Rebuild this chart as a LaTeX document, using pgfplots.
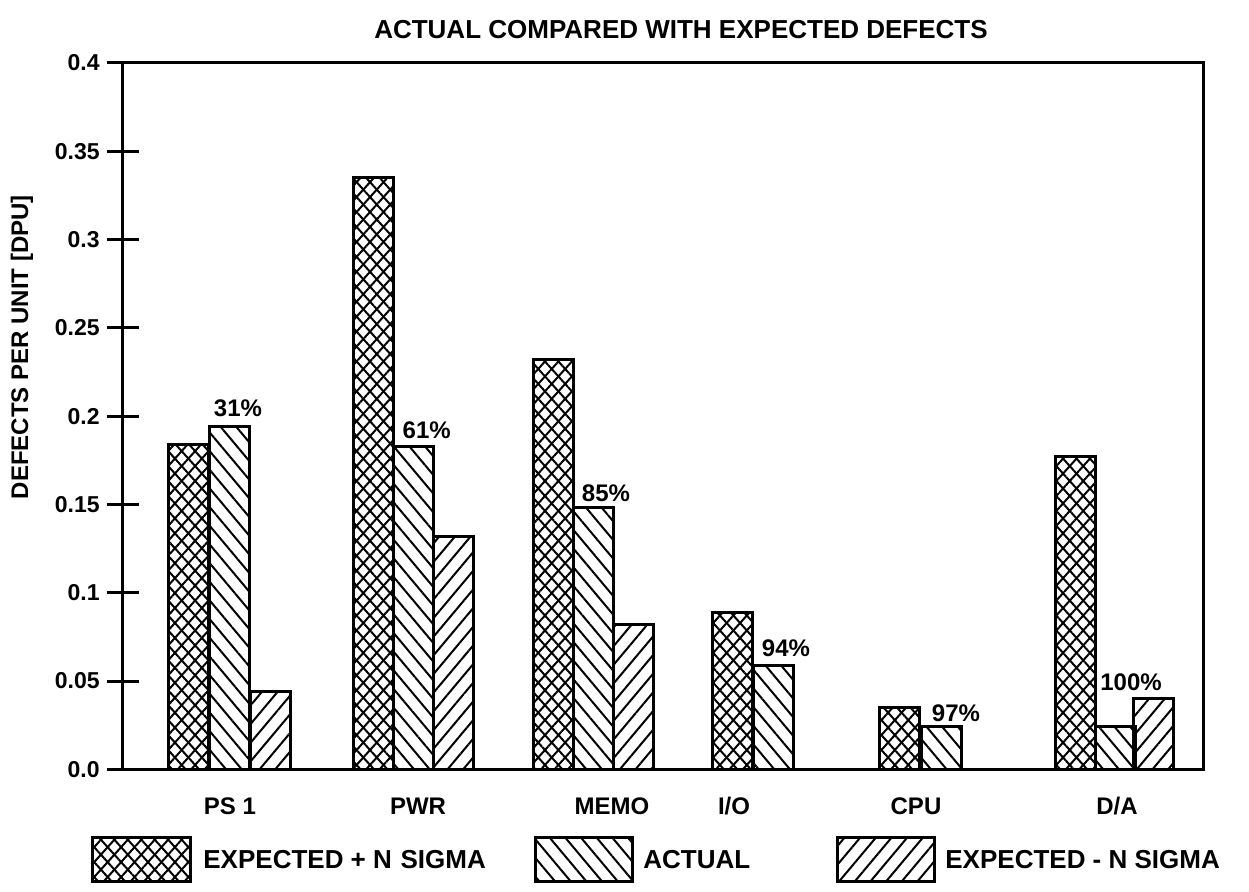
\documentclass[border=0pt]{standalone}
\usepackage{fontspec}
\setmainfont{Liberation Sans}
\usepackage{pgfplots}
\pgfplotsset{compat=1.18}
\usetikzlibrary{patterns.meta}

\tikzset{
 xh/.style={pattern={Lines[angle=48,distance=5pt,line width=1pt]}, postaction={pattern={Lines[angle=-48,distance=5pt,line width=1pt]}}},
 act/.style={pattern={Lines[angle=-50,distance=6pt,line width=1pt]}},
 exm/.style={pattern={Lines[angle=50,distance=6pt,line width=1pt]}},
 pct/.style={anchor=base, inner sep=0pt, font=\bfseries\fontsize{12}{14}\selectfont},
 leg/.style={anchor=west, inner sep=0pt, font=\bfseries\fontsize{13}{15}\selectfont},
}

\begin{document}
\begin{tikzpicture}
\path[use as bounding box] (-61.35pt,-61.35pt) rectangle (563.15pt,384.65pt);
\begin{axis}[
  scale only axis, width=540.15pt, height=353.15pt,
  xmin=122.7, xmax=1203, ymin=0, ymax=0.4,
  axis line style={line width=1.5pt},
  ytick={0,0.05,0.1,0.15,0.2,0.25,0.3,0.35,0.4},
  yticklabels={0.0,0.05,0.1,0.15,0.2,0.25,0.3,0.35,0.4},
  xtick={230,418,612,734,916,1117},
  xticklabels={PS 1,PWR,MEMO,I/O,CPU,D/A},
  tick align=center, major tick length=16pt,
  ytick style={line width=1.5pt,black},
  xtick style={draw=none},
  ytick pos=left, xtick pos=bottom,
  yticklabel style={font=\bfseries\fontsize{11.5}{13}\selectfont},
  xticklabel style={font=\bfseries\fontsize{12}{14}\selectfont, anchor=base, yshift=-14.5pt},
  /pgf/number format/assume math mode=true,
  clip=false,
]
% EXPECTED + N SIGMA
\addplot[ybar, bar width=40, bar shift=0pt, draw=black, line width=1.5pt, xh]
  coordinates {(188,0.184) (373,0.335) (553.5,0.232) (732,0.089) (899.5,0.035) (1075,0.177)};
% ACTUAL
\addplot[ybar, bar width=40, bar shift=0pt, draw=black, line width=1.5pt, act]
  coordinates {(229.5,0.194) (413.5,0.183) (593.5,0.148) (773,0.059) (941,0.024) (1115,0.024)};
% EXPECTED - N SIGMA
\addplot[ybar, bar width=40, bar shift=0pt, draw=black, line width=1.5pt, exm]
  coordinates {(270.5,0.044) (453,0.132) (633,0.082) (1153.5,0.040)};

\node[pct] at (axis cs:238,0.1997) {31\%};
\node[pct] at (axis cs:426.7,0.1876) {61\%};
\node[pct] at (axis cs:606,0.1515) {85\%};
\node[pct] at (axis cs:786,0.0636) {94\%};
\node[pct] at (axis cs:956,0.027) {97\%};
\node[pct] at (axis cs:1131,0.0445) {100\%};
\end{axis}
% title and y label
\node[font=\bfseries\fontsize{13}{15}\selectfont] at (279.15pt,369.65pt) {ACTUAL COMPARED WITH EXPECTED DEFECTS};
\node[rotate=90, font=\bfseries\fontsize{12}{14}\selectfont] at (-50.35pt,211pt) {DEFECTS PER UNIT [DPU]};
% legend
\draw[line width=1.5pt, xh] (-14.85pt,-34.35pt) rectangle (33.65pt,-56.35pt);
\node[leg] at (40.15pt,-45.35pt) {EXPECTED + N\,\,SIGMA};
\draw[line width=1.5pt, act] (206.15pt,-34.35pt) rectangle (254.65pt,-56.35pt);
\node[leg] at (260.15pt,-45.35pt) {ACTUAL};
\draw[line width=1.5pt, exm] (357.15pt,-34.35pt) rectangle (405.65pt,-56.35pt);
\node[leg] at (411.15pt,-45.35pt) {EXPECTED - N SIGMA};
\end{tikzpicture}
\end{document}
